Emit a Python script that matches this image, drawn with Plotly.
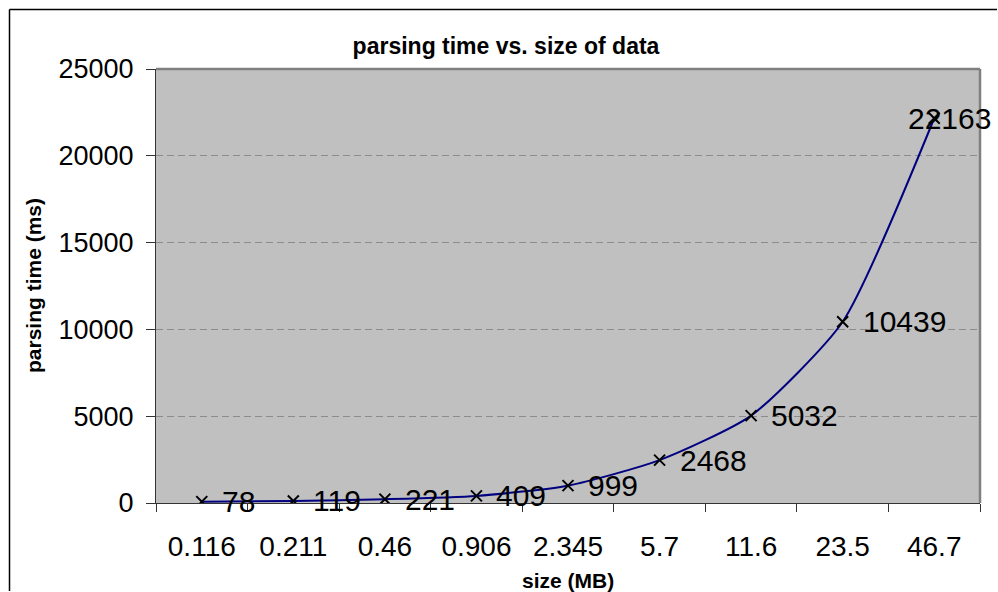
import plotly.graph_objects as go

sizes = ["0.116", "0.211", "0.46", "0.906", "2.345", "5.7", "11.6", "23.5", "46.7"]
times = [78, 119, 221, 409, 999, 2468, 5032, 10439, 22163]
label_shift = [18, 18, 18, 18, 18, 18, 18, 18, -28]
y_ticks = [0, 5000, 10000, 15000, 20000, 25000]
y_ticklabels = ["0", "5000", "10000", "15000", "20000", "25000"]

title_text = "parsing time vs. size of data"
x_title = "size (MB)"
y_title = "parsing time (ms)"

W, H = 998, 592
L, R, T, B = 156, 18, 69, 89
PW, PH = W - L - R, H - T - B
FONT = "Arial, 'Liberation Sans', sans-serif"

fig = go.Figure()
fig.add_trace(go.Scatter(
    x=sizes, y=times, mode="lines+markers",
    line=dict(color="#000080", width=2, shape="spline", smoothing=0.6),
    marker=dict(symbol="x-thin", size=11, color="black",
                line=dict(color="black", width=2)),
    hoverinfo="skip", showlegend=False,
))

for i, (yv, sh) in enumerate(zip(times, label_shift)):
    fig.add_annotation(x=i, y=yv, text=str(yv), showarrow=False,
                       xanchor="left", yanchor="middle", xshift=sh,
                       font=dict(family=FONT, size=30, color="black"))

def px2x(px):
    return (px - L) / PW

def py2y(py):
    return (H - B - py) / PH

# outer chart border: only left and top edges fall inside the picture
fig.add_shape(type="line", xref="paper", yref="paper",
              x0=px2x(9.5), x1=px2x(9.5), y0=py2y(9.5), y1=py2y(H - 1),
              line=dict(color="black", width=1.5))
fig.add_shape(type="line", xref="paper", yref="paper",
              x0=px2x(9.5), x1=px2x(W - 1), y0=py2y(9.5), y1=py2y(9.5),
              line=dict(color="black", width=1.5))
# plot area frame (top/right)
fig.add_shape(type="line", xref="paper", yref="paper", x0=0, x1=1, y0=1, y1=1,
              line=dict(color="#808080", width=2.5))
fig.add_shape(type="line", xref="paper", yref="paper", x0=1, x1=1, y0=0, y1=1,
              line=dict(color="#808080", width=2.5))

fig.add_annotation(xref="paper", yref="paper", x=px2x(568), y=py2y(580),
                   text="<b>" + x_title + "</b>", showarrow=False,
                   xanchor="center", yanchor="middle",
                   font=dict(family=FONT, size=21, color="black"))
fig.add_annotation(xref="paper", yref="paper", x=px2x(33), y=py2y(286),
                   text="<b>" + y_title + "</b>", showarrow=False, textangle=-90,
                   xanchor="center", yanchor="middle",
                   font=dict(family=FONT, size=21, color="black"))

fig.update_layout(
    width=W, height=H,
    margin=dict(l=L, r=R, t=T, b=B),
    paper_bgcolor="white", plot_bgcolor="#C0C0C0",
    title=dict(text="<b>" + title_text + "</b>", x=506 / W, xanchor="center",
               y=1 - 46 / H, yanchor="middle",
               font=dict(family=FONT, size=23, color="black")),
    font=dict(family=FONT, color="black"),
)
fig.update_xaxes(
    type="category", range=[-0.5, 8.5], tickson="boundaries",
    ticks="outside", ticklen=8, tickwidth=1, tickcolor="#333333",
    showline=True, linecolor="#333333", linewidth=1,
    showgrid=False, zeroline=False, ticklabelstandoff=18,
    tickfont=dict(family=FONT, size=28, color="black"),
)
fig.update_yaxes(
    range=[0, 25000], tickmode="array", tickvals=y_ticks, ticktext=y_ticklabels,
    ticks="outside", ticklen=9, tickwidth=1, tickcolor="#333333",
    showline=True, linecolor="#333333", linewidth=1,
    showgrid=True, gridcolor="#8c8c8c", gridwidth=1, griddash="7px,4px",
    zeroline=False, ticklabelstandoff=7,
    tickfont=dict(family=FONT, size=27, color="black"),
)

fig.write_html("out.html")
